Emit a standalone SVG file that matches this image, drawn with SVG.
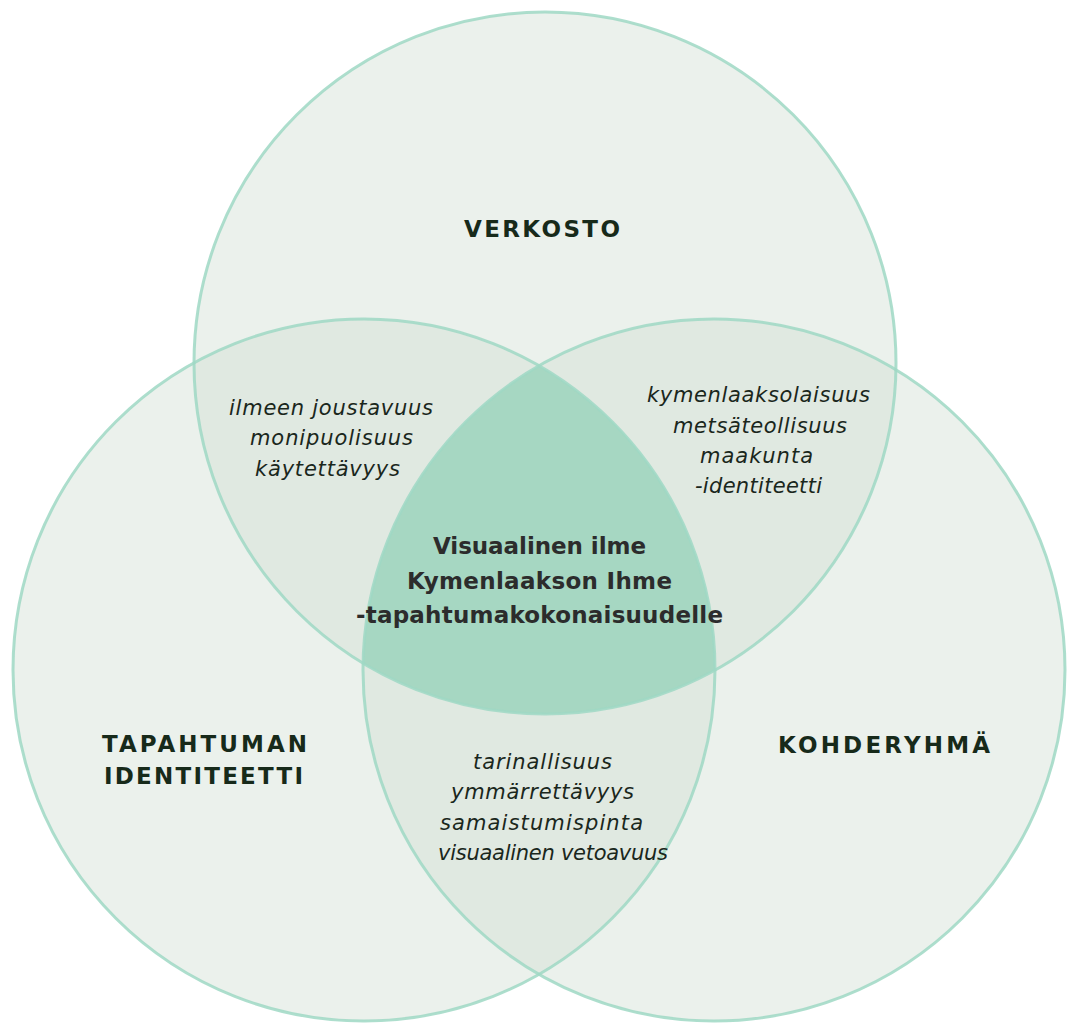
<svg xmlns="http://www.w3.org/2000/svg" width="1067" height="1024" viewBox="0 0 1067 1024">
<style>
.fill{fill:rgb(208,222,211);fill-opacity:0.43;stroke:none}
.edge{fill:none;stroke:#9fd8c4;stroke-width:3;stroke-opacity:0.85}
.cap{font-family:"DejaVu Sans","Liberation Sans",sans-serif;font-weight:bold;font-size:23px;fill:#172a1a;text-anchor:middle}
.it{font-family:"DejaVu Sans","Liberation Sans",sans-serif;font-style:italic;font-size:21px;fill:#1a271c;text-anchor:middle}
.ctr{font-family:"DejaVu Sans","Liberation Sans",sans-serif;font-weight:bold;font-size:23px;fill:#2c2c2c;text-anchor:middle}
</style>
<defs>
<clipPath id="clipL"><circle cx="364" cy="670" r="351"/></clipPath>
<clipPath id="clipR"><circle cx="714" cy="670" r="351"/></clipPath>
</defs>
<rect width="1067" height="1024" fill="#ffffff"/>
<g id="node-verkosto">
<circle class="fill" cx="545" cy="363" r="351"/>
</g>
<g id="node-tapahtuman-identiteetti">
<circle class="fill" cx="364" cy="670" r="351"/>
</g>
<g id="node-kohderyhma">
<circle class="fill" cx="714" cy="670" r="351"/>
</g>
<g id="node-center">
<g clip-path="url(#clipL)"><circle cx="545" cy="363" r="351" fill="#a6d7c2" clip-path="url(#clipR)"/></g>
</g>
<g id="connectors">
<circle class="edge" cx="545" cy="363" r="351"/>
<circle class="edge" cx="364" cy="670" r="351"/>
<circle class="edge" cx="714" cy="670" r="351"/>
</g>
<g id="labels">
<text class="cap" x="542" y="237" textLength="156" lengthAdjust="spacing">VERKOSTO</text>
<text class="cap" x="204.5" y="752" textLength="205" lengthAdjust="spacing">TAPAHTUMAN</text>
<text class="cap" x="203.5" y="784" textLength="199" lengthAdjust="spacing">IDENTITEETTI</text>
<text class="cap" x="884" y="753" textLength="212" lengthAdjust="spacing">KOHDERYHMÄ</text>
</g>
<g id="overlap-top-left">
<text class="it" x="331" y="415" textLength="204" lengthAdjust="spacing">ilmeen joustavuus</text>
<text class="it" x="331.5" y="445" textLength="163" lengthAdjust="spacing">monipuolisuus</text>
<text class="it" x="327.5" y="476" textLength="145" lengthAdjust="spacing">käytettävyys</text>
</g>
<g id="overlap-top-right">
<text class="it" x="758.5" y="402" textLength="223" lengthAdjust="spacing">kymenlaaksolaisuus</text>
<text class="it" x="760" y="433" textLength="174" lengthAdjust="spacing">metsäteollisuus</text>
<text class="it" x="756.5" y="463" textLength="113" lengthAdjust="spacing">maakunta</text>
<text class="it" x="758.5" y="493" textLength="127" lengthAdjust="spacing">-identiteetti</text>
</g>
<g id="overlap-bottom">
<text class="it" x="542.5" y="769" textLength="139" lengthAdjust="spacing">tarinallisuus</text>
<text class="it" x="542.5" y="799" textLength="183" lengthAdjust="spacing">ymmärrettävyys</text>
<text class="it" x="541.5" y="830" textLength="203" lengthAdjust="spacing">samaistumispinta</text>
<text class="it" x="553" y="860" textLength="230" lengthAdjust="spacing">visuaalinen vetoavuus</text>
</g>
<g id="center-text">
<text class="ctr" x="539.5" y="554" textLength="213" lengthAdjust="spacing">Visuaalinen ilme</text>
<text class="ctr" x="539.5" y="589" textLength="265" lengthAdjust="spacing">Kymenlaakson Ihme</text>
<text class="ctr" x="539.5" y="623" textLength="367" lengthAdjust="spacing">-tapahtumakokonaisuudelle</text>
</g>
</svg>
